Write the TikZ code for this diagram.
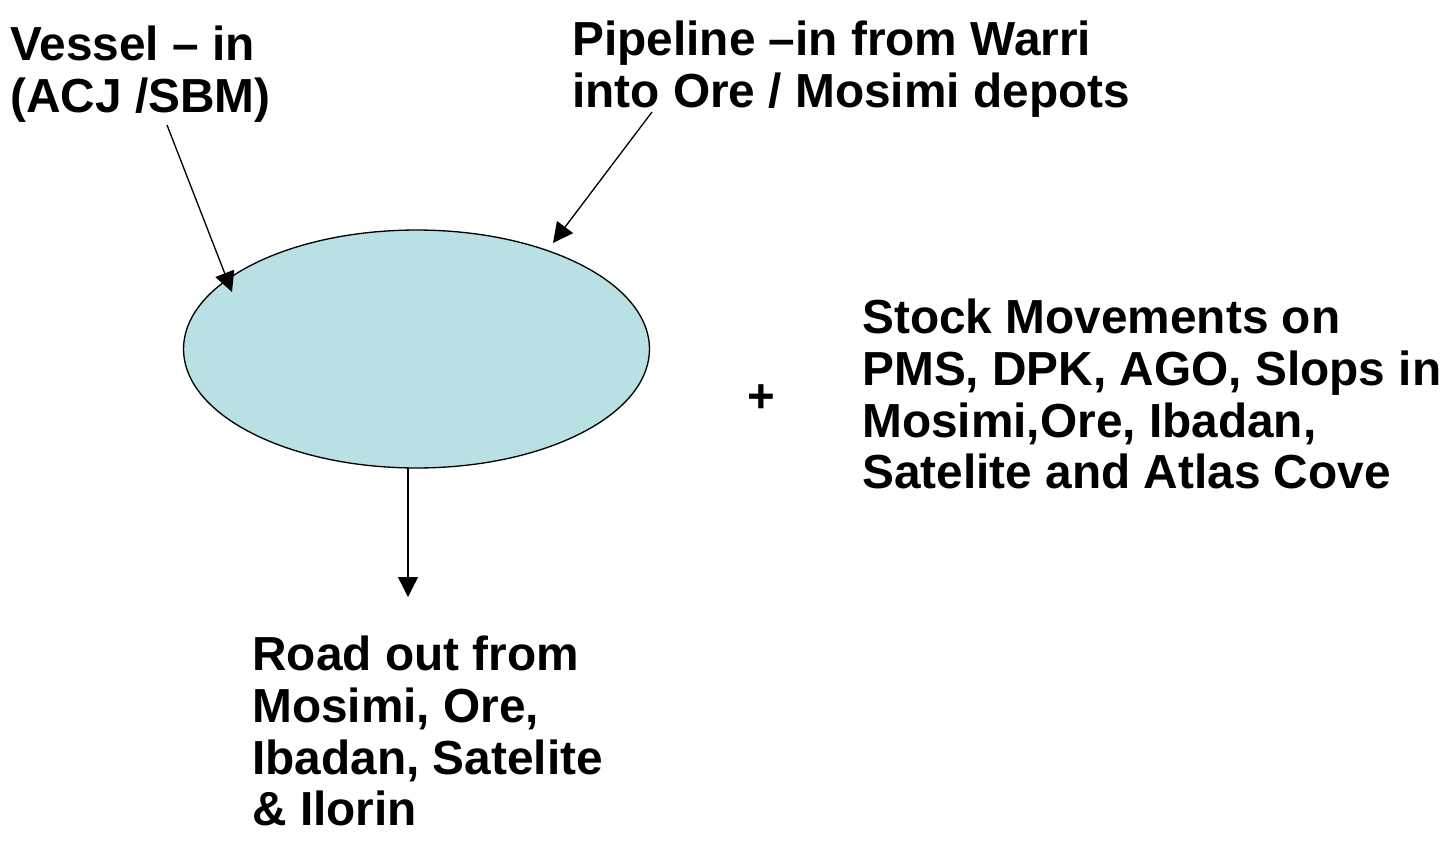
\documentclass[tikz,border=0pt]{standalone}
\usepackage{fontspec}
\setmainfont{Liberation Sans}
\usepackage{xcolor}
\usetikzlibrary{arrows.meta,shapes.geometric}
\definecolor{tankblue}{RGB}{185,224,227}

\begin{document}
\begin{tikzpicture}[x=0.02cm,y=-0.02cm,
    lbl/.style={inner sep=0pt,align=left,anchor=north west,
      font=\fontsize{27.2}{29.4}\selectfont\bfseries},
    flow/.style={line width=0.75pt,-{Triangle[length=4mm,width=4mm]}},
    tank/.style={ellipse,draw,line width=0.75pt,fill=tankblue,inner sep=0pt,
      minimum width=9.32cm,minimum height=4.76cm}]
          \useasboundingbox (0,0) rectangle (1447,845);

          % central tank
          \node[tank] (tank) at (416.5,349) {};

          % Labels
          \node[lbl] (vessel) at (10,26) {Vessel -- in\\(ACJ /SBM)};
          \node[lbl] (pipe) at (572,21) {Pipeline --in from Warri\\into Ore / Mosimi depots};
          \node[lbl] (road) at (252,636) {Road out from\\Mosimi, Ore,\\Ibadan, Satelite\\\& Ilorin};
          \node[lbl] (stock) at (862,299) {Stock Movements on\\PMS, DPK, AGO, Slops in\\Mosimi,Ore, Ibadan,\\Satelite and Atlas Cove};
          \node[inner sep=0pt,font=\fontsize{27}{29}\selectfont\bfseries] (plus) at (761,399) {+};

          % arrow ends
          \coordinate (vtail) at (167,125);
          \coordinate (vhead) at (232,292);
          \coordinate (ptail) at (652,112);
          \coordinate (phead) at (553,243);
          \coordinate (rtail) at (408,468);
          \coordinate (rhead) at (408,597);

          \draw[flow] (vtail) -- (vhead);
          \draw[flow] (ptail) -- (phead);
          \draw[flow] (rtail) -- (rhead);
      \end{tikzpicture}
\end{document}
